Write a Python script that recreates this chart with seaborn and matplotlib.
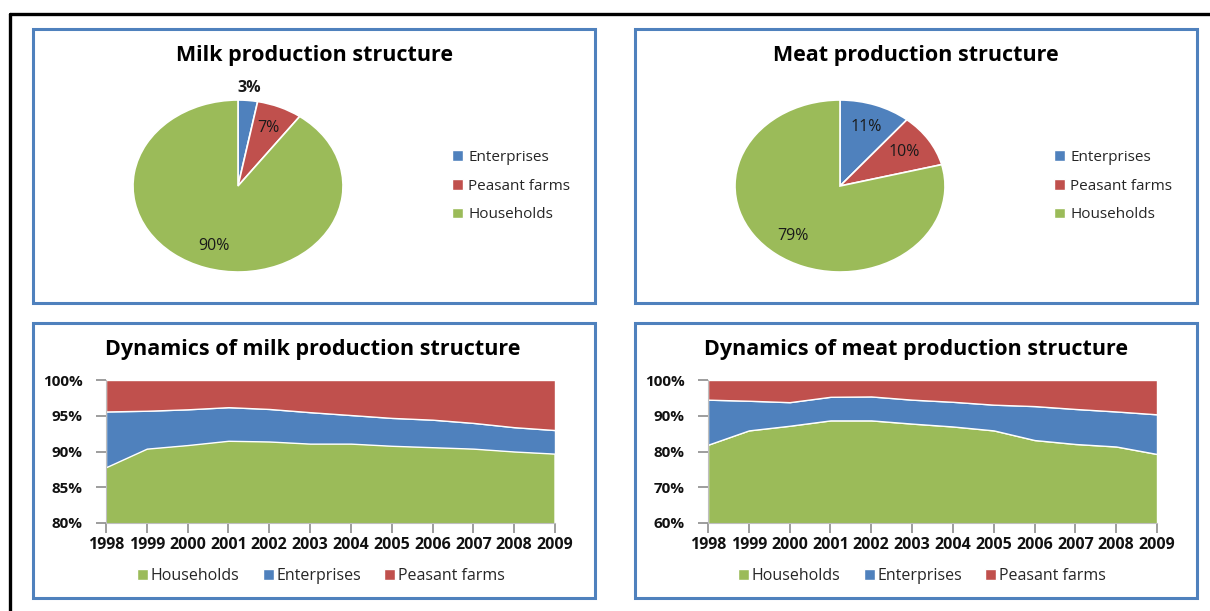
import matplotlib
matplotlib.use("Agg")
import matplotlib.pyplot as plt
import matplotlib.patches as mpatches
from matplotlib.lines import Line2D
from matplotlib.ticker import PercentFormatter
import numpy as np
import seaborn as sns

# ---- data -------------------------------------------------------------
pie_labels = ["Enterprises", "Peasant farms", "Households"]
milk_pie = [3, 7, 90]
meat_pie = [11, 10, 79]

years = [1998, 1999, 2000, 2001, 2002, 2003, 2004, 2005, 2006, 2007, 2008, 2009]

milk_households = [87.8, 90.4, 90.9, 91.5, 91.4, 91.1, 91.1, 90.8, 90.6, 90.4, 90.0, 89.7]
milk_enterprises = [7.8, 5.3, 5.0, 4.7, 4.55, 4.4, 4.0, 3.9, 3.85, 3.6, 3.4, 3.3]
milk_peasant = [4.4, 4.3, 4.1, 3.8, 4.05, 4.5, 4.9, 5.3, 5.55, 6.0, 6.6, 7.0]

meat_households = [81.9, 85.9, 87.2, 88.7, 88.7, 87.8, 87.0, 85.9, 83.2, 82.1, 81.4, 79.3]
meat_enterprises = [12.6, 8.3, 6.6, 6.6, 6.7, 6.7, 6.9, 7.2, 9.5, 9.8, 9.8, 11.1]
meat_peasant = [5.5, 5.8, 6.2, 4.7, 4.6, 5.5, 6.1, 6.9, 7.3, 8.1, 8.8, 9.6]

milk_yticks = [80, 85, 90, 95, 100]
meat_yticks = [60, 70, 80, 90, 100]

# ---- style ------------------------------------------------------------
sns.set_theme(style="white")
plt.rcParams["font.family"] = ["Open Sans", "DejaVu Sans"]

BLUE, RED, GREEN = "#4F81BD", "#C0504D", "#9BBB59"
palette = sns.color_palette([BLUE, RED, GREEN])
FRAME = "#4F81BD"
INK = "#111111"

W, H = 1210, 611
fig = plt.figure(figsize=(W / 100, H / 100), dpi=100)
fig.patch.set_facecolor("white")


def rect(x0, y0, x1, y1):
    return [x0 / W, 1 - y1 / H, (x1 - x0) / W, (y1 - y0) / H]


# outer black border (top and left)
fig.add_artist(Line2D([10 / W, 1.0], [1 - 14 / H, 1 - 14 / H], color="black", lw=2.4,
                      transform=fig.transFigure))
fig.add_artist(Line2D([10 / W, 10 / W], [0, 1 - 14 / H], color="black", lw=2.4,
                      transform=fig.transFigure))

# blue panel frames
panels = [(33, 29, 595, 303), (635, 29, 1197, 303), (33, 323, 595, 598), (635, 323, 1197, 598)]
for x0, y0, x1, y1 in panels:
    fig.add_artist(mpatches.Rectangle((x0 / W, 1 - y1 / H), (x1 - x0) / W, (y1 - y0) / H,
                                      fill=False, edgecolor=FRAME, lw=2.2,
                                      transform=fig.transFigure))


def draw_pie(cx, cy, values, title, tx, outside):
    rx, ry = 105, 86
    ax = fig.add_axes(rect(cx - rx, cy - ry, cx + rx, cy + ry))
    wedges, _ = ax.pie(values, colors=palette, startangle=90, counterclock=False,
                       radius=1.0, wedgeprops=dict(edgecolor="white", linewidth=1.2))
    ax.set_aspect("auto")
    ax.set_xlim(-1, 1)
    ax.set_ylim(-1, 1)
    for w, v in zip(wedges, values):
        ang = np.deg2rad((w.theta1 + w.theta2) / 2)
        if v in outside:
            r, kw = 1.14, dict(fontweight="bold")
        else:
            r, kw = 0.73, {}
        ax.text(r * np.cos(ang), r * np.sin(ang), f"{v}%", ha="center", va="center",
                fontsize=11.5, color="#1a1a1a", clip_on=False, **kw)
    fig.text(tx / W, 1 - 56 / H, title, ha="center", va="center", fontsize=15.5,
             fontweight="bold", color="black")
    handles = [mpatches.Patch(facecolor=c, edgecolor="white") for c in palette]
    fig.legend(handles, pie_labels, loc="center left",
               bbox_to_anchor=((cx + 214) / W, 1 - 186 / H), frameon=False,
               fontsize=11, handlelength=0.7, handleheight=0.7, handletextpad=0.35,
               labelspacing=0.9, borderaxespad=0, borderpad=0)


draw_pie(238, 186, milk_pie, "Milk production structure", 314, outside=[3])
draw_pie(840, 186, meat_pie, "Meat production structure", 916, outside=[])


def draw_area(x0, x1, hh, ent, peas, yticks, title, tx, legend_cx):
    ax = fig.add_axes(rect(x0, 380, x1, 523))
    ax.stackplot(years, hh, ent, peas, colors=[GREEN, BLUE, RED],
                 edgecolor="white", linewidth=1.0)
    ax.set_xlim(years[0], years[-1])
    ax.set_ylim(yticks[0], yticks[-1])
    ax.set_xticks(years)
    ax.set_xticklabels([str(y) for y in years], fontsize=11.5, fontweight="bold", color=INK)
    ax.set_yticks(yticks)
    ax.yaxis.set_major_formatter(PercentFormatter(decimals=0))
    for lab in ax.get_yticklabels():
        lab.set_fontsize(11)
        lab.set_fontweight("bold")
        lab.set_color(INK)
    ax.tick_params(axis="x", direction="out", length=7, width=1.2, color="#8c8c8c", pad=3,
                   bottom=True)
    ax.tick_params(axis="y", direction="out", length=7, width=1.2, color="#8c8c8c", pad=10,
                   left=True)
    for s in ["top", "right"]:
        ax.spines[s].set_visible(False)
    for s in ["left", "bottom"]:
        ax.spines[s].set_color("#bfbfbf")
        ax.spines[s].set_linewidth(0.8)
    fig.text(tx / W, 1 - 349 / H, title, ha="center", va="center", fontsize=15.5,
             fontweight="bold", color="black")
    handles = [mpatches.Patch(facecolor=c, edgecolor="white") for c in [GREEN, BLUE, RED]]
    fig.legend(handles, ["Households", "Enterprises", "Peasant farms"], loc="center",
               bbox_to_anchor=(legend_cx / W, 1 - 576 / H), ncol=3, frameon=False,
               fontsize=11.5, handlelength=0.7, handleheight=0.7, handletextpad=0.15,
               columnspacing=1.45, borderaxespad=0, borderpad=0)


draw_area(106, 555, milk_households, milk_enterprises, milk_peasant, milk_yticks,
          "Dynamics of milk production structure", 313, 321)
draw_area(708, 1157, meat_households, meat_enterprises, meat_peasant, meat_yticks,
          "Dynamics of meat production structure", 916, 922)

fig.savefig("out.png", dpi=100, facecolor="white")
